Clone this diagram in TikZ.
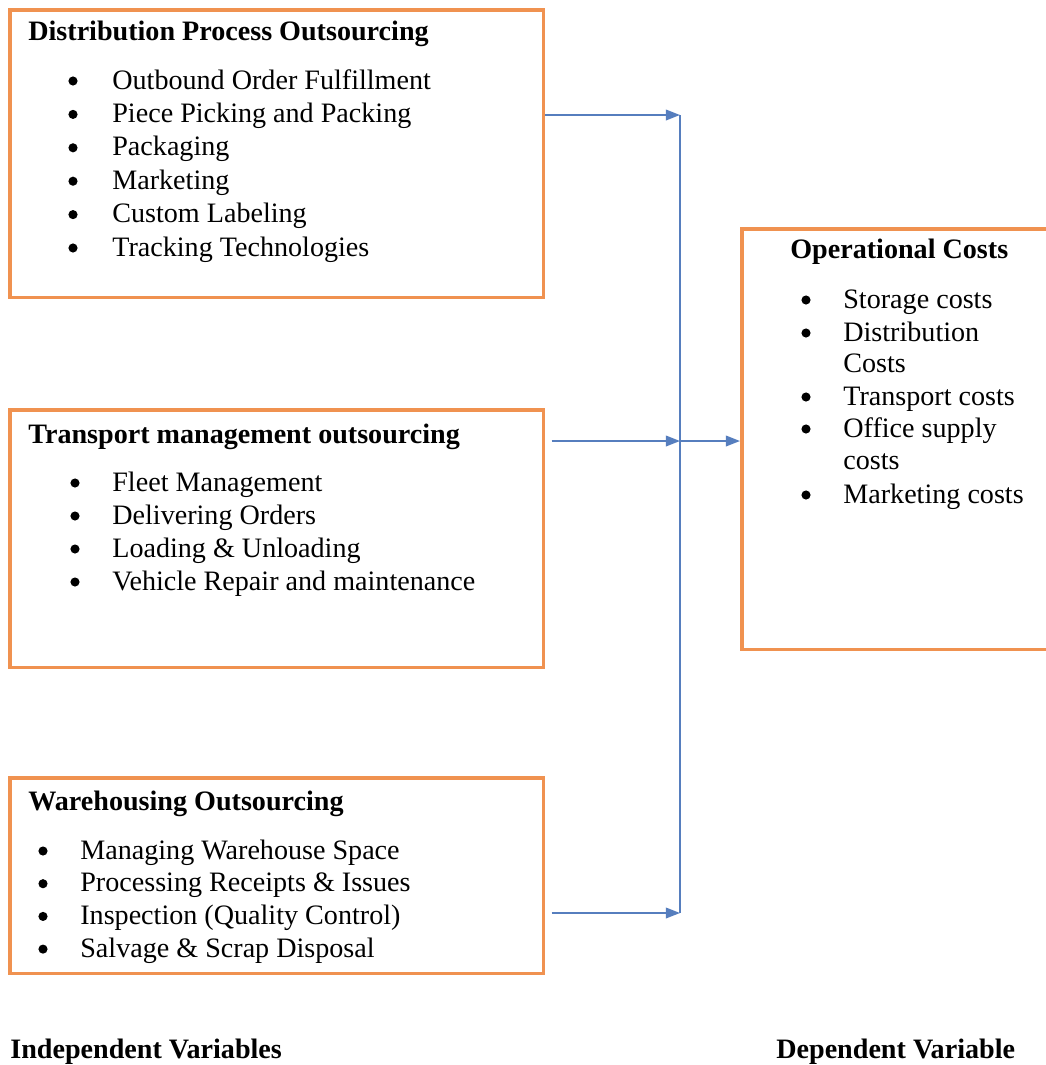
\documentclass[tikz,border=0pt]{standalone}
\usepackage{fontspec}
\setmainfont{Liberation Serif}
\usepackage{tikz}
\usetikzlibrary{positioning, arrows.meta}
\definecolor{BoxOrange}{RGB}{240,146,80}
\definecolor{LinkBlue}{RGB}{86,126,190}

\begin{document}
\begin{tikzpicture}[
  x=0.02cm, y=-0.02cm,
  every node/.style={font=\fontsize{16}{18.6}\selectfont},
  group/.style={draw=BoxOrange, line width=2pt, anchor=north west, inner sep=0pt},
  title/.style={anchor=base west, inner sep=0pt, font=\fontsize{16}{18.6}\selectfont\bfseries},
  txt/.style={anchor=base west, inner sep=0pt, align=left},
  dot/.style={circle, fill=black, inner sep=0pt, minimum size=5.2pt},
  arrow/.style={-{Triangle[length=8pt, width=6pt]}, line width=1pt, LinkBlue},
  link/.style={line width=1pt, LinkBlue}
]
\useasboundingbox (0,0) rectangle (1045,1065);

% Independent variable boxes
\node[group, minimum width=10.68cm, minimum height=5.76cm] (dpo) at (8,8) {};
\node[title] (dpo-h) at (28,40) {Distribution Process Outsourcing};
\foreach \t [count=\i from 0] in {Outbound Order Fulfillment, Piece Picking and Packing, Packaging, Marketing, Custom Labeling, Tracking Technologies} {
  \node[dot] (dpo-d\i) at (73,{81+33.4*\i}) {};
  \node[txt] (dpo-t\i) at (112,{89+33.4*\i}) {\t};
}

\node[group, minimum width=10.68cm, minimum height=5.16cm] (tmo) at (8,408) {};
\node[title] (tmo-h) at (28,443) {Transport management outsourcing};
\foreach \t [count=\i from 0] in {Fleet Management, Delivering Orders, Loading \& Unloading, Vehicle Repair and maintenance} {
  \node[dot] (tmo-d\i) at (75,{483+33*\i}) {};
  \node[txt] (tmo-t\i) at (112,{491+33*\i}) {\t};
}

\node[group, minimum width=10.68cm, minimum height=3.92cm] (who) at (8,776) {};
\node[title] (who-h) at (28,810) {Warehousing Outsourcing};
\foreach \t [count=\i from 0] in {Managing Warehouse Space, Processing Receipts \& Issues, Inspection (Quality Control), Salvage \& Scrap Disposal} {
  \node[dot] (who-d\i) at (43,{851+32.7*\i}) {};
  \node[txt] (who-t\i) at (80,{859+32.7*\i}) {\t};
}

% Dependent variable box
\node[group, minimum width=6.2cm, minimum height=8.42cm] (opc) at (740,227) {};
\node[title] (opc-h) at (790,258) {Operational Costs};
\node[dot] (opc-d0) at (806,300) {};
\node[txt] (opc-t0) at (843,308) {Storage costs};
\node[dot] (opc-d1) at (806,333) {};
\node[txt] (opc-t1) at (843,341) {Distribution};
\node[txt] (opc-t1b) at (843,372) {Costs};
\node[dot] (opc-d2) at (806,397) {};
\node[txt] (opc-t2) at (843,405) {Transport costs};
\node[dot] (opc-d3) at (806,429) {};
\node[txt] (opc-t3) at (843,437) {Office supply};
\node[txt] (opc-t3b) at (843,469) {costs};
\node[dot] (opc-d4) at (806,495) {};
\node[txt] (opc-t4) at (843,503) {Marketing costs};

% Connectors
\coordinate (j1) at (680,115);
\coordinate (j2) at (680,441);
\coordinate (j3) at (680,913);
\draw[link] (j1) -- (j3);
\draw[arrow] (dpo.east |- j1) -- (j1);
\draw[arrow, shorten <=3.5pt] (tmo.east |- j2) -- (j2);
\draw[arrow] (j2) -- (opc.west |- j2);
\draw[arrow, shorten <=3.5pt] (who.east |- j3) -- (j3);

% Captions
\node[title] (indep) at (10,1058) {Independent Variables};
\node[title] (dep) at (776,1058) {Dependent Variable};
\end{tikzpicture}
\end{document}
